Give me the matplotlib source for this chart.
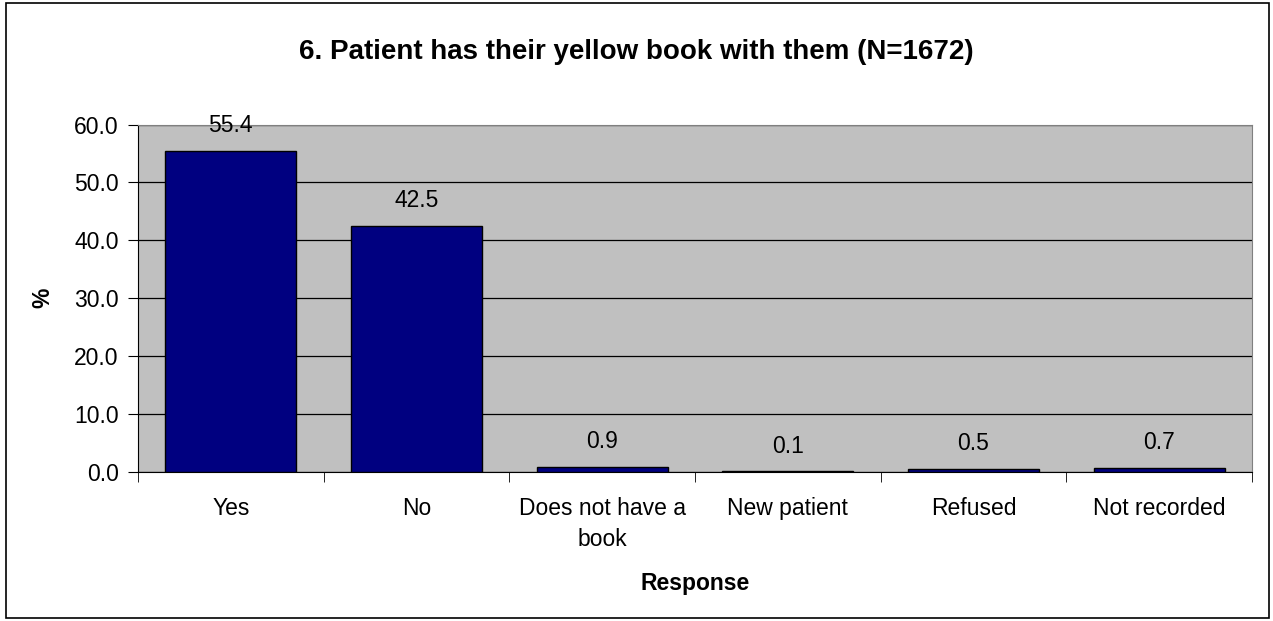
import numpy as np
import matplotlib.pyplot as plt
from matplotlib.patches import Rectangle

categories = ["Yes", "No", "Does not have a\nbook", "New patient", "Refused", "Not recorded"]
values = [55.4, 42.5, 0.9, 0.1, 0.5, 0.7]
yticks = [0, 10, 20, 30, 40, 50, 60]

plt.rcParams['font.family'] = ['Liberation Sans', 'DejaVu Sans']

fig = plt.figure(figsize=(12.73, 6.21), dpi=100)
ax = fig.add_axes([0.1084, 0.2399, 0.8751, 0.5596])
fig.patches.append(Rectangle((0.005, 0.005), 0.992, 0.99, transform=fig.transFigure,
                             fill=False, edgecolor='black', linewidth=1.2))

x = np.arange(len(categories))
ax.set_facecolor('#C0C0C0')
bars = ax.bar(x, values, width=0.705, color='#000080', edgecolor='black', linewidth=1.0, zorder=3)
for xi, v in zip(x, values):
    ax.annotate(f'{v:.1f}', (xi, v), xytext=(0, 10), textcoords='offset points',
                ha='center', va='bottom', fontsize=16.5)

ax.set_xlim(-0.5, len(categories) - 0.5)
ax.set_ylim(0, 60)
ax.set_yticks(yticks)
ax.set_yticklabels([f'{t:.1f}' for t in yticks], fontsize=16.5)
ax.yaxis.grid(True, color='black', linewidth=0.9, zorder=1)
ax.set_axisbelow(True)

ax.set_xticks(x)
ax.set_xticklabels(categories, fontsize=16.5, linespacing=1.45)
ax.tick_params(axis='x', length=0, pad=18)
ax.set_xticks(np.arange(-0.5, len(categories)), minor=True)
ax.tick_params(axis='x', which='minor', length=7, direction='out', color='black')
ax.tick_params(axis='y', length=7, direction='out', color='black', pad=7)

for side in ['top', 'right']:
    ax.spines[side].set_color('#808080')
for side in ['left', 'bottom']:
    ax.spines[side].set_color('black')

ax.set_xlabel('Response', fontsize=16.5, fontweight='bold', labelpad=15)
ax.set_ylabel('%', fontsize=16.5, fontweight='bold', labelpad=14)
fig.text(0.5, 0.916, '6. Patient has their yellow book with them (N=1672)',
         ha='center', va='center', fontsize=20, fontweight='bold')

fig.savefig('out.png', dpi=100)
